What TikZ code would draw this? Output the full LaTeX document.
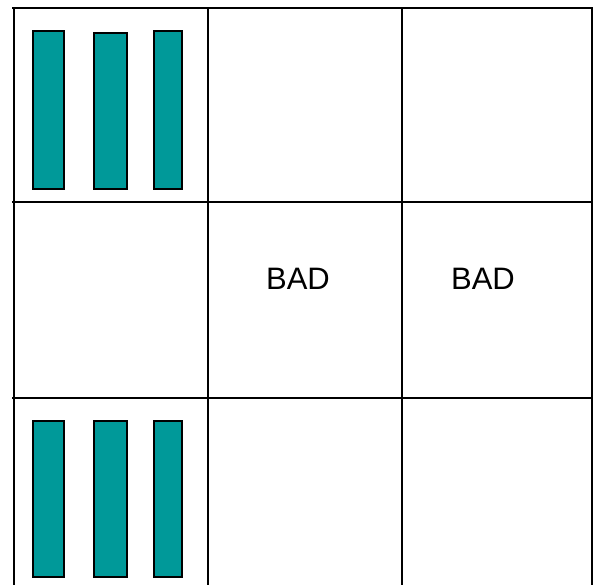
\documentclass[tikz,border=0pt]{standalone}
\usepackage{fontspec}
\setmainfont{Liberation Sans}
\usetikzlibrary{positioning}
\definecolor{barTeal}{HTML}{009999}

\begin{document}
\begin{tikzpicture}[x=1pt, y=-1pt, line width=1.4pt]
            \useasboundingbox (0,0) rectangle (595,585);
            % grid lines, open at the bottom
            \draw (12,8) -- (593,8);
            \draw (12,202) -- (593,202);
            \draw (12,398) -- (593,398);
            \foreach \x in {14,208,402,592}
                \draw (\x,8) -- (\x,585);
            % bars in the left column
            \foreach \a/\b/\t in {33/64/31, 94/127/33, 154/182/31}
                \draw[fill=barTeal, line width=1.2pt] (\a,\t) rectangle (\b,189);
            \foreach \a/\b in {33/64, 94/127, 154/182}
                \draw[fill=barTeal, line width=1.2pt] (\a,421) rectangle (\b,577);
            \node[font=\fontsize{31}{36}\selectfont, inner sep=0pt] (badMid) at (298,279) {BAD};
            \node[font=\fontsize{31}{36}\selectfont, inner sep=0pt] (badRight) at (483,279) {BAD};
        \end{tikzpicture}
\end{document}
